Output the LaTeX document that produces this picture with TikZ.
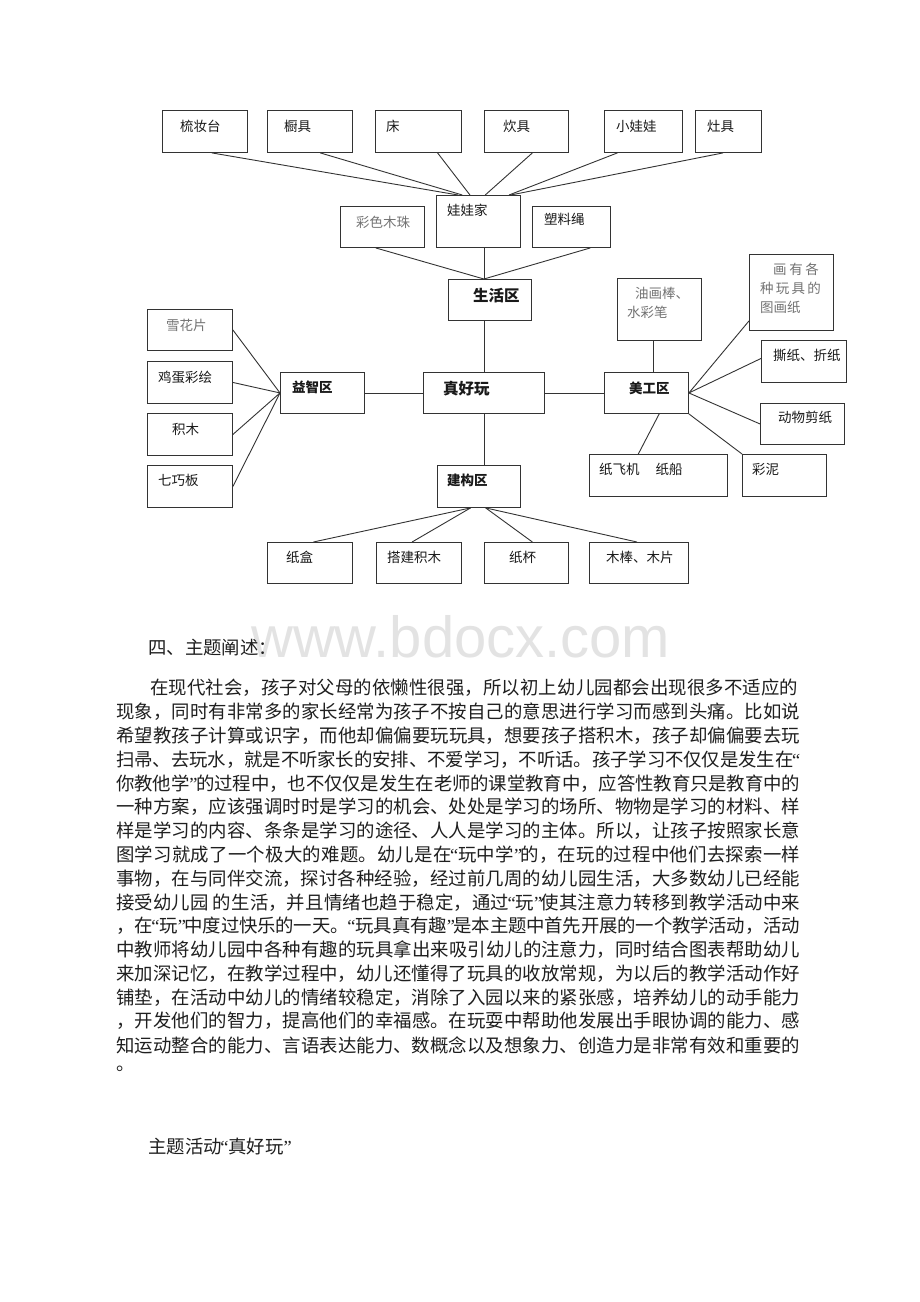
\documentclass[tikz,border=0pt]{standalone}
\usepackage{fontspec}
\usetikzlibrary{calc}
\newfontfamily\cjk{Noto Sans CJK SC}
\newfontfamily\wmfont{Liberation Sans}
\newfontfamily\qfont{Liberation Serif}
\newcommand\myoq{\kern-1.5pt{\qfont“}}
\newcommand\mycq{{\qfont”}\kern-1.5pt}
\XeTeXlinebreaklocale "zh"
\XeTeXlinebreakskip=0pt plus 2pt minus 0.3pt
\newcommand\jline[2]{\parbox{#1}{\pretolerance=9999\tolerance=9999\hbadness=10000\parfillskip=0pt\relax #2}}
\tikzset{
 bx/.style={draw=black!80, line width=0.9pt, inner sep=0pt, anchor=north west},
 ln/.style={draw=black!80, line width=0.9pt},
 lbl/.style={anchor=west, inner sep=0pt, font=\cjk\fontsize{13.5}{16}\selectfont, text=black!90},
 lblg/.style={lbl, text=black!55},
 lblb/.style={lbl, font=\cjk\bfseries\fontsize{13.5}{16}\selectfont},
 lblB/.style={lbl, font=\cjk\bfseries\fontsize{15.5}{18}\selectfont},
 body/.style={anchor=west, inner sep=0pt, font=\cjk\fontsize{18.4}{22}\selectfont, text=black!88},
}
\newcommand\mybox[5]{\node[bx, minimum width=#4pt, minimum height=#5pt] (#1) at (#2,#3) {};}
\begin{document}
\begin{tikzpicture}[x=1pt,y=-1pt]
\fill[white] (0,0) rectangle (920,1302);
\useasboundingbox (0,0) rectangle (920,1302);
% watermark
\node[anchor=base west, inner sep=0pt, text=black!11, font=\wmfont\fontsize{58}{60}\selectfont] (wm) at (251,657) {www.bdocx.com};
% boxes
\mybox{zhuang}{162}{110}{85}{42}
\mybox{chu}{267}{110}{85}{42}
\mybox{chuang}{375}{110}{86}{42}
\mybox{chui}{484}{110}{84}{42}
\mybox{wawa}{604}{110}{78}{42}
\mybox{zao}{695}{110}{66}{42}
\mybox{caise}{340}{206}{84}{41}
\mybox{wawajia}{436}{195}{84}{52}
\mybox{suliao}{532}{206}{78}{41}
\mybox{shenghuo}{448}{279}{83}{41}
\mybox{zhenhao}{423}{372}{121}{41}
\mybox{yizhi}{280}{372}{84}{41}
\mybox{meigong}{604}{372}{84}{41}
\mybox{jiangou}{437}{465}{83}{42}
\mybox{xuehua}{147}{309}{85}{41}
\mybox{jidan}{147}{361}{85}{42}
\mybox{jimu}{147}{413}{85}{42}
\mybox{qiqiao}{147}{465}{85}{42}
\mybox{youhua}{617}{278}{84}{62}
\mybox{huayou}{749}{254}{84}{76}
\mybox{sizhi}{761}{340}{85}{42}
\mybox{dongwu}{760}{403}{84}{41}
\mybox{zhifeiji}{589}{454}{138}{42}
\mybox{caini}{742}{454}{84}{42}
\mybox{zhihe}{267}{542}{85}{41}
\mybox{dajian}{376}{542}{85}{41}
\mybox{zhibei}{484}{542}{84}{41}
\mybox{mubang}{589}{542}{99}{41}
% connectors: top row to wawajia
\draw[ln] ($(zhuang.south west)!0.58!(zhuang.south east)$) -- ($(wawajia.north west)!0.26!(wawajia.north east)$);
\draw[ln] ($(chu.south west)!0.62!(chu.south east)$) -- ($(wawajia.north west)!0.31!(wawajia.north east)$);
\draw[ln] ($(chuang.south west)!0.72!(chuang.south east)$) -- ($(wawajia.north west)!0.40!(wawajia.north east)$);
\draw[ln] ($(chui.south west)!0.57!(chui.south east)$) -- ($(wawajia.north west)!0.58!(wawajia.north east)$);
\draw[ln] ($(wawa.south west)!0.17!(wawa.south east)$) -- ($(wawajia.north west)!0.86!(wawajia.north east)$);
\draw[ln] ($(zao.south west)!0.42!(zao.south east)$) -- ($(wawajia.north west)!0.88!(wawajia.north east)$);
% second row to shenghuo
\coordinate (sh-top) at (zhenhao.north |- shenghuo.north);
\draw[ln] ($(caise.south west)!0.42!(caise.south east)$) -- (sh-top);
\draw[ln] (zhenhao.north |- wawajia.south) -- (sh-top);
\draw[ln] ($(suliao.south west)!0.74!(suliao.south east)$) -- (sh-top);
% centre
\draw[ln] (zhenhao.north |- shenghuo.south) -- (zhenhao.north);
\draw[ln] (yizhi.east) -- (zhenhao.west);
\draw[ln] (zhenhao.east) -- (meigong.west);
\draw[ln] (zhenhao.south) -- (zhenhao.south |- jiangou.north);
% left group
\draw[ln] (xuehua.east) -- (yizhi.west);
\draw[ln] (jidan.east) -- (yizhi.west);
\draw[ln] (jimu.east) -- (yizhi.west);
\draw[ln] (qiqiao.east) -- (yizhi.west);
% right group
\coordinate (mg-top) at ($(meigong.north west)!0.58!(meigong.north east)$);
\draw[ln] (mg-top |- youhua.south) -- (mg-top);
\draw[ln] ($(huayou.south west)!0.13!(huayou.north west)$) -- (meigong.east);
\draw[ln] ($(sizhi.north west)!0.43!(sizhi.south west)$) -- (meigong.east);
\draw[ln] (dongwu.west) -- (meigong.east);
\draw[ln] (caini.north west) -- (meigong.south east);
\draw[ln] ($(zhifeiji.north west)!0.355!(zhifeiji.north east)$) -- ($(meigong.south west)!0.65!(meigong.south east)$);
% bottom group
\draw[ln] ($(zhihe.north west)!0.54!(zhihe.north east)$) -- ($(jiangou.south west)!0.40!(jiangou.south east)$);
\draw[ln] ($(dajian.north west)!0.42!(dajian.north east)$) -- ($(jiangou.south west)!0.40!(jiangou.south east)$);
\draw[ln] ($(zhibei.north west)!0.57!(zhibei.north east)$) -- ($(jiangou.south west)!0.58!(jiangou.south east)$);
\draw[ln] ($(mubang.north west)!0.48!(mubang.north east)$) -- ($(jiangou.south west)!0.58!(jiangou.south east)$);
% labels
\node[lbl] (t-zhuang) at (180,126) {梳妆台};
\node[lbl] (t-chu) at (284,126) {橱具};
\node[lbl] (t-chuang) at (386,126) {床};
\node[lbl] (t-chui) at (503,126) {炊具};
\node[lbl] (t-wawa) at (616,126) {小娃娃};
\node[lbl] (t-zao) at (707,126) {灶具};
\node[lblg] (t-caise) at (356,222) {彩色木珠};
\node[lbl] (t-wawajia) at (447,210) {娃娃家};
\node[lbl] (t-suliao) at (544,219) {塑料绳};
\node[lblB] (t-shenghuo) at (473,296) {生活区};
\node[lblB] (t-zhenhao) at (443,389) {真好玩};
\node[lblb] (t-yizhi) at (292,387) {益智区};
\node[lblb] (t-meigong) at (629,388) {美工区};
\node[lblb] (t-jiangou) at (447,480) {建构区};
\node[lblg] (t-xuehua) at (166,325) {雪花片};
\node[lbl] (t-jidan) at (158,377) {鸡蛋彩绘};
\node[lbl] (t-jimu) at (172,429) {积木};
\node[lbl] (t-qiqiao) at (158,480) {七巧板};
\node[lblg] (t-youhua1) at (635,293) {油画棒、};
\node[lblg] (t-youhua2) at (627,312) {水彩笔};
\node[lblg] (t-huayou1) at (773,269) {画\hspace{2.6pt}有\hspace{2.6pt}各};
\node[lblg] (t-huayou2) at (760,288) {种\hspace{2.2pt}玩\hspace{2.2pt}具\hspace{2.2pt}的};
\node[lblg] (t-huayou3) at (760,307) {图画纸};
\node[lbl] (t-sizhi) at (773,355) {撕纸、折纸};
\node[lbl] (t-dongwu) at (778,417) {动物剪纸};
\node[lbl] (t-zhifeiji) at (599,469) {纸飞机\hspace{16pt}纸船};
\node[lbl] (t-caini) at (752,469) {彩泥};
\node[lbl] (t-zhihe) at (286,557) {纸盒};
\node[lbl] (t-dajian) at (387,557) {搭建积木};
\node[lbl] (t-zhibei) at (509,557) {纸杯};
\node[lbl] (t-mubang) at (606,557) {木棒、木片};
% body text
\node[body] (h4) at (148,648) {四、主题阐述：};
\node[body] (p1) at (150,688) {\jline{648pt}{在现代社会，孩子对父母的依懒性很强，所以初上幼儿园都会出现很多不适应的}};
\node[body] (p2) at (116,711.8) {\jline{684pt}{现象，同时有非常多的家长经常为孩子不按自己的意思进行学习而感到头痛。比如说}};
\node[body] (p3) at (116,735.6) {\jline{684pt}{希望教孩子计算或识字，而他却偏偏要玩玩具，想要孩子搭积木，孩子却偏偏要去玩}};
\node[body] (p4) at (116,759.4) {\jline{684pt}{扫帚、去玩水，就是不听家长的安排、不爱学习，不听话。孩子学习不仅仅是发生在\myoq}};
\node[body] (p5) at (116,783.2) {\jline{684pt}{你教他学\mycq 的过程中，也不仅仅是发生在老师的课堂教育中，应答性教育只是教育中的}};
\node[body] (p6) at (116,807) {\jline{684pt}{一种方案，应该强调时时是学习的机会、处处是学习的场所、物物是学习的材料、样}};
\node[body] (p7) at (116,830.8) {\jline{684pt}{样是学习的内容、条条是学习的途径、人人是学习的主体。所以，让孩子按照家长意}};
\node[body] (p8) at (116,854.6) {\jline{684pt}{图学习就成了一个极大的难题。幼儿是在\myoq 玩中学\mycq 的，在玩的过程中他们去探索一样}};
\node[body] (p9) at (116,878.4) {\jline{684pt}{事物，在与同伴交流，探讨各种经验，经过前几周的幼儿园生活，大多数幼儿已经能}};
\node[body] (p10) at (116,902.2) {\jline{684pt}{接受幼儿园 的生活，并且情绪也趋于稳定，通过\myoq 玩\mycq 使其注意力转移到教学活动中来}};
\node[body] (p11) at (116,926) {\jline{684pt}{，在\myoq 玩\mycq 中度过快乐的一天。\myoq 玩具真有趣\mycq 是本主题中首先开展的一个教学活动，活动}};
\node[body] (p12) at (116,949.8) {\jline{684pt}{中教师将幼儿园中各种有趣的玩具拿出来吸引幼儿的注意力，同时结合图表帮助幼儿}};
\node[body] (p13) at (116,973.6) {\jline{684pt}{来加深记忆，在教学过程中，幼儿还懂得了玩具的收放常规，为以后的教学活动作好}};
\node[body] (p14) at (116,997.4) {\jline{684pt}{铺垫，在活动中幼儿的情绪较稳定，消除了入园以来的紧张感，培养幼儿的动手能力}};
\node[body] (p15) at (116,1021.2) {\jline{684pt}{，开发他们的智力，提高他们的幸福感。在玩耍中帮助他发展出手眼协调的能力、感}};
\node[body] (p16) at (116,1045) {\jline{684pt}{知运动整合的能力、言语表达能力、数概念以及想象力、创造力是非常有效和重要的}};
\node[body] (p17) at (116,1068.8) {。};
\node[body] (title) at (148,1146) {主题活动\myoq 真好玩\mycq};
\end{tikzpicture}
\end{document}
